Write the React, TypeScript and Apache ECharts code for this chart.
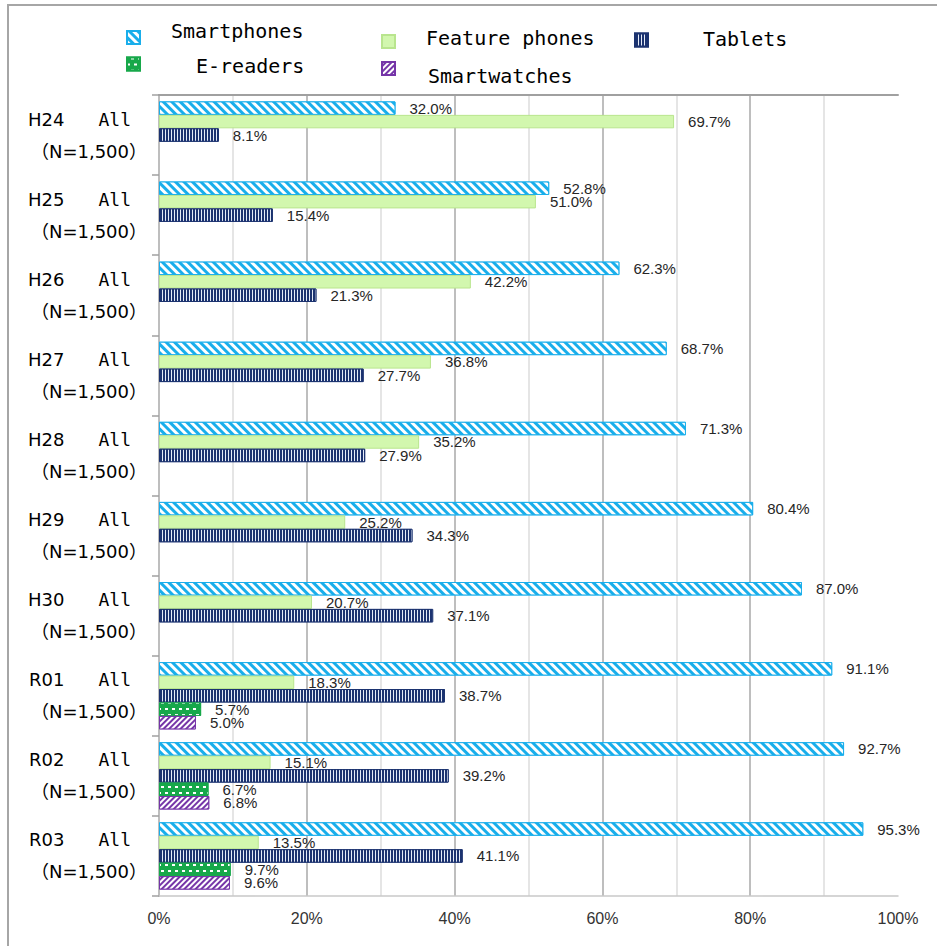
import React, { useEffect, useRef } from 'react';
import * as echarts from 'echarts';

const categories = ['H24', 'H25', 'H26', 'H27', 'H28', 'H29', 'H30', 'R01', 'R02', 'R03'];
const groupLabel = 'All';
const sampleSizes = ['（N=1,500）', '（N=1,500）', '（N=1,500）', '（N=1,500）', '（N=1,500）', '（N=1,500）', '（N=1,500）', '（N=1,500）', '（N=1,500）', '（N=1,500）'];
const seriesNames = ['Smartphones', 'Feature phones', 'Tablets', 'E-readers', 'Smartwatches'];
const smartphones = [32.0, 52.8, 62.3, 68.7, 71.3, 80.4, 87.0, 91.1, 92.7, 95.3];
const featurePhones = [69.7, 51.0, 42.2, 36.8, 35.2, 25.2, 20.7, 18.3, 15.1, 13.5];
const tablets = [8.1, 15.4, 21.3, 27.7, 27.9, 34.3, 37.1, 38.7, 39.2, 41.1];
const eReaders = [null, null, null, null, null, null, null, 5.7, 6.7, 9.7];
const smartwatches = [null, null, null, null, null, null, null, 5.0, 6.8, 9.6];
const xMin = 0;
const xMax = 100;
const xInterval = 20;

const mono = '"DejaVu Sans Mono", "Liberation Mono", monospace';

function makeSeries(name: string, data: (number | null)[], color: string, border: string, decal: any) {
  return {
    name,
    type: 'bar',
    data,
    xAxisIndex: 0,
    yAxisIndex: 0,
    barCategoryGap: '16%',
    barGap: '0%',
    itemStyle: { color, borderColor: border, borderWidth: 1, decal },
    label: {
      show: true,
      position: 'right',
      distance: 14,
      formatter: (p: any) => (p.value == null ? '' : Number(p.value).toFixed(1) + '%'),
      fontFamily: '"Liberation Sans", Arial, sans-serif',
      fontSize: 15,
      color: '#262626',
    },
  };
}

// shift: vertical offset of the text relative to the icon centre (negative = up)
function legendItem(name: string, left: number, top: number, padLeft: number, shift: number) {
  const spacer = 20 + 2 * Math.abs(shift);
  return {
    data: [name],
    left,
    top,
    padding: 0,
    itemWidth: 13,
    itemHeight: 13,
    icon: 'rect',
    selectedMode: false,
    formatter: (n: string) => `{s| }{t|${n}}`,
    textStyle: {
      fontFamily: mono,
      fontSize: 20,
      color: '#000000',
      padding: [0, 0, 0, padLeft],
      rich: {
        s: { fontSize: 1, lineHeight: spacer, width: 0 },
        t: {
          fontFamily: mono,
          fontSize: 20,
          lineHeight: 20,
          color: '#000000',
          verticalAlign: shift < 0 ? 'top' : shift > 0 ? 'bottom' : 'middle',
        },
      },
    },
  };
}

export default function App() {
  const ref = useRef<HTMLDivElement>(null);
  useEffect(() => {
    if (!ref.current) return;
    const chart = echarts.init(ref.current, undefined, { renderer: 'svg' });
    const option: any = {
      animation: false,
      backgroundColor: '#ffffff',
      graphic: [
        {
          type: 'rect',
          silent: true,
          shape: { x: 8, y: 5, width: 1000, height: 1000 },
          style: { fill: 'none', stroke: '#A6A6A6', lineWidth: 2 },
        },
      ],
      legend: [
        legendItem(seriesNames[0], 126, 21, 26, -6.5),
        legendItem(seriesNames[1], 381, 28, 26, -3.5),
        legendItem(seriesNames[2], 634, 29, 50, -1),
        legendItem(seriesNames[3], 126, 56, 51, 2),
        legendItem(seriesNames[4], 381, 61, 28, 7),
      ],
      grid: { left: 159, right: 39, top: 95, bottom: 50, containLabel: false, outerBoundsMode: 'none' },
      xAxis: [
        {
          type: 'value',
          min: xMin,
          max: xMax,
          interval: xInterval,
          position: 'bottom',
          axisLine: { show: true, lineStyle: { color: '#C8C8C8', width: 1.5 } },
          axisTick: { show: false },
          axisLabel: {
            formatter: '{value}%',
            margin: 14,
            fontFamily: '"Liberation Sans", Arial, sans-serif',
            fontSize: 16,
            color: '#333333',
          },
          splitLine: { show: true, showMaxLine: false, lineStyle: { color: '#A8A8A8', width: 1.5 } },
          minorTick: { show: false, splitNumber: 2 },
          minorSplitLine: { show: true, lineStyle: { color: '#DCDCDC', width: 1.5 } },
        },
        {
          type: 'value',
          min: xMin,
          max: xMax,
          interval: xInterval,
          position: 'top',
          axisLine: { show: true, lineStyle: { color: '#A0A0A0', width: 2 } },
          axisTick: { show: false },
          axisLabel: { show: false },
          splitLine: { show: false },
        },
      ],
      yAxis: [
        {
          type: 'category',
          data: categories,
          inverse: true,
          axisLine: { show: true, lineStyle: { color: '#A0A0A0', width: 2 } },
          axisTick: { show: true, length: 7, lineStyle: { color: '#A0A0A0', width: 1.5 } },
          axisLabel: {
            margin: 12,
            formatter: (value: string, index: number) => `{h|${value}}{a|${groupLabel}}\n{n|${sampleSizes[index]}}`,
            rich: {
              h: { fontFamily: '"DejaVu Sans", sans-serif', fontSize: 18, lineHeight: 32, color: '#000' },
              a: { fontFamily: mono, fontSize: 18, lineHeight: 32, color: '#000', padding: [0, 16, 0, 34] },
              n: { fontFamily: '"DejaVu Sans", "Noto Sans CJK JP", sans-serif', fontSize: 18, lineHeight: 32, color: '#000' },
            },
          },
          splitLine: { show: false },
        },
        {
          type: 'category',
          data: categories,
          inverse: true,
          position: 'right',
          axisLine: { show: true, lineStyle: { color: '#C8C8C8', width: 1.5 } },
          axisTick: { show: false },
          axisLabel: { show: false },
          splitLine: { show: false },
        },
      ],
      series: [
        makeSeries(seriesNames[0], smartphones, '#19AEEB', '#19AEEB', {
          symbol: 'rect', symbolSize: 1, color: '#ffffff', dashArrayX: [1, 0], dashArrayY: [2.5, 2.5], rotation: Math.PI / 4,
        }),
        makeSeries(seriesNames[1], featurePhones, '#D2F7AE', '#B9E58E', undefined),
        makeSeries(seriesNames[2], tablets, '#1C3370', '#1C3370', {
          symbol: 'rect', symbolSize: 1, color: '#E6ECF7', dashArrayX: [1, 2], dashArrayY: [1, 0], rotation: 0,
        }),
        makeSeries(seriesNames[3], eReaders, '#17A84A', '#17A84A', {
          symbol: 'rect', symbolSize: 1, color: '#ffffff', dashArrayX: [[3, 4], [0, 4, 3, 0]], dashArrayY: [2, 4], rotation: 0,
        }),
        makeSeries(seriesNames[4], smartwatches, '#7535A8', '#7535A8', {
          symbol: 'rect', symbolSize: 1, color: '#ffffff', dashArrayX: [1, 0], dashArrayY: [2, 2], rotation: -Math.PI / 4,
        }),
      ],
    };
    chart.setOption(option);
    return () => chart.dispose();
  }, []);
  return <div ref={ref} style={{ position: 'fixed', left: 0, top: 0, width: 937, height: 946 }} />;
}
